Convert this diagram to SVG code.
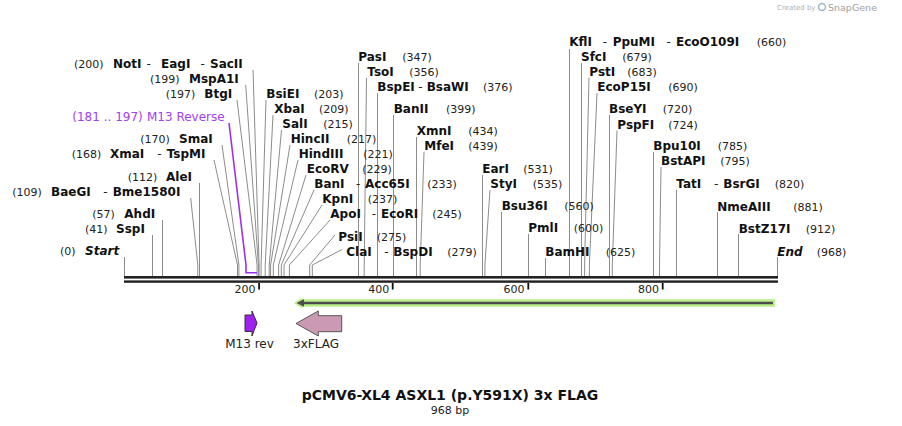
<svg xmlns="http://www.w3.org/2000/svg" width="902" height="426" viewBox="0 0 902 426">
<style>
text{font-family:"DejaVu Sans",Verdana,sans-serif}
.n{font-size:12px;font-weight:bold;fill:#111}
.i{font-style:italic}
.d{font-size:12px;font-weight:normal;fill:#222}
.p{font-size:11px;fill:#222}
.pu{font-size:12px;fill:#a040f0}
.t{font-size:11px;fill:#222;text-anchor:end}
.f{font-size:12px;fill:#222;text-anchor:middle}
.l{stroke:#8c8c8c;stroke-width:1;fill:none}
.bar{fill:#222}
.tick{fill:#111}
</style>
<rect width="902" height="426" fill="#fff"/>
<g id="watermark">
<text x="777" y="10" style="font-size:7px;fill:#b0b0b0">Created by</text>
<circle cx="822" cy="7" r="3.5" fill="none" stroke="#9fb8c8" stroke-width="1.5"/>
<text x="828" y="11" style="font-size:9.5px;fill:#a0a0a0">SnapGene</text>
</g>
<g id="connectors">
<path class="l" d="M259.1 276V265L253 70"/>
<path class="l" d="M258.4 276V265L245.7 85"/>
<path class="l" d="M257.1 276V265L237 100"/>
<path class="l" d="M238.9 276V265L222 145"/>
<path class="l" d="M237.5 276V265L214 160"/>
<path class="l" d="M199.5 276V183"/>
<path class="l" d="M197.8 276V265L190.7 198"/>
<path class="l" d="M162.5 276V220"/>
<path class="l" d="M152.5 276V235"/>
<path class="l" d="M124.5 276V257"/>
<path class="l" d="M261.1 276V265L266 100"/>
<path class="l" d="M265.2 276V265L273 115"/>
<path class="l" d="M269.2 276V265L281.5 130"/>
<path class="l" d="M270.6 276V265L290 145"/>
<path class="l" d="M273.3 276V265L298 160"/>
<path class="l" d="M278.6 276V265L306 175"/>
<path class="l" d="M281.3 276V265L314 190"/>
<path class="l" d="M284 276V265L322 205"/>
<path class="l" d="M289.4 276V265L330 220"/>
<path class="l" d="M309.7 276V265L335 235"/>
<path class="l" d="M312.3 276V265L342 249.5"/>
<path class="l" d="M358.5 276V63"/>
<path class="l" d="M364.2 276V265L366.5 78"/>
<path class="l" d="M377.5 276V93"/>
<path class="l" d="M393.5 276V115"/>
<path class="l" d="M416.5 276V137"/>
<path class="l" d="M420.2 276V265L424 152"/>
<path class="l" d="M482.5 276V175"/>
<path class="l" d="M484.9 276V265L490 190"/>
<path class="l" d="M501.5 276V212"/>
<path class="l" d="M528.5 276V234"/>
<path class="l" d="M545.5 276V258"/>
<path class="l" d="M569.5 276V49"/>
<path class="l" d="M581.5 276V63"/>
<path class="l" d="M584.6 276V265L589 77.5"/>
<path class="l" d="M589.4 276V265L597 93"/>
<path class="l" d="M609.5 276V115"/>
<path class="l" d="M612.3 276V265L617 130.5"/>
<path class="l" d="M653.5 276V152"/>
<path class="l" d="M659.5 276V265L661 167"/>
<path class="l" d="M676.5 276V190"/>
<path class="l" d="M717.5 276V212"/>
<path class="l" d="M738.5 276V234"/>
<path class="l" d="M777.5 276V257"/>
<path d="M229 123L246 265V272.7H257" fill="none" stroke="#9b30f0" stroke-width="1.6"/>
</g>
<g id="sequence">
<rect class="bar" x="124" y="276" width="654" height="2.6"/>
<rect class="bar" x="124" y="280.4" width="654" height="2.4"/>
<rect class="tick" x="258.2" y="283" width="1.8" height="6.5"/>
<rect class="tick" x="391.8" y="283" width="1.8" height="6.5"/>
<rect class="tick" x="527.4" y="283" width="1.8" height="6.5"/>
<rect class="tick" x="661.8" y="283" width="1.8" height="6.5"/>
<text class="t" x="255.5" y="292.5">200</text>
<text class="t" x="389.3" y="292.5">400</text>
<text class="t" x="524.5" y="292.5">600</text>
<text class="t" x="659" y="292.5">800</text>
</g>
<g id="orf">
<polygon points="294,303 302.5,297.5 302.5,299.3 775,299.3 775,306.7 302.5,306.7 302.5,308.5" fill="#b9f08c"/>
<path d="M773 303H300" stroke="#4d4d4d" stroke-width="2.6"/>
<polygon points="296.5,303 304,299.3 304,306.7" fill="#4d4d4d"/>
</g>
<g id="m13rev">
<polygon points="245,315 252,315 252,311 257,323 252,336 252,331.5 245,331.5" fill="#a020f0" stroke="#333" stroke-width="1"/>
<text class="f" x="249.5" y="348">M13 rev</text>
</g>
<g id="flag">
<polygon points="296,323.5 318.3,311 318.3,315.7 341.7,315.7 341.7,331.7 318.3,331.7 318.3,336" fill="#cc99b4" stroke="#555" stroke-width="1"/>
<text class="f" x="316" y="348">3xFLAG</text>
</g>
<g id="title">
<text x="450" y="399.5" text-anchor="middle" style="font-size:14px;font-weight:bold;fill:#111">pCMV6-XL4 ASXL1 (p.Y591X) 3x FLAG</text>
<text x="450" y="413.5" text-anchor="middle" class="p">968 bp</text>
</g>
<g id="site-200"><text class="p" x="74" y="68">(200)</text><text class="n" y="68"><tspan x="113">NotI</tspan><tspan class="d" x="146.5">-</tspan><tspan x="161">EagI</tspan><tspan class="d" x="200.5">-</tspan><tspan x="210">SacII</tspan></text></g>
<g id="site-199"><text class="p" x="150" y="83">(199)</text><text class="n" x="189" y="83">MspA1I</text></g>
<g id="site-197"><text class="p" x="165.7" y="98">(197)</text><text class="n" x="204.3" y="98">BtgI</text></g>
<g id="m13-reverse"><text class="pu" x="72.3" y="120.5">(181 .. 197)</text><text class="pu" x="147" y="120.5">M13 Reverse</text></g>
<g id="site-170"><text class="p" x="140.3" y="142.5">(170)</text><text class="n" x="179" y="142.5">SmaI</text></g>
<g id="site-168"><text class="p" x="71.7" y="157.7">(168)</text><text class="n" y="157.7"><tspan x="110">XmaI</tspan><tspan class="d" x="157.3">-</tspan><tspan x="166.7">TspMI</tspan></text></g>
<g id="site-112"><text class="p" x="127.7" y="180.5">(112)</text><text class="n" x="166" y="180.5">AleI</text></g>
<g id="site-109"><text class="p" x="12.3" y="195.5">(109)</text><text class="n" y="195.5"><tspan x="51">BaeGI</tspan><tspan class="d" x="103.3">-</tspan><tspan x="112.7">Bme1580I</tspan></text></g>
<g id="site-57"><text class="p" x="92.3" y="217.5">(57)</text><text class="n" x="124.3" y="217.5">AhdI</text></g>
<g id="site-41"><text class="p" x="85" y="232.5">(41)</text><text class="n" x="116" y="232.5">SspI</text></g>
<g id="start"><text class="p" x="60" y="255">(0)</text><text class="n i" x="85" y="255">Start</text></g>
<g id="site-203"><text class="n" x="266.3" y="98">BsiEI</text><text class="p" x="314" y="98">(203)</text></g>
<g id="site-209"><text class="n" x="274.3" y="113">XbaI</text><text class="p" x="319" y="113">(209)</text></g>
<g id="site-215"><text class="n" x="282.3" y="128">SalI</text><text class="p" x="323.3" y="128">(215)</text></g>
<g id="site-217"><text class="n" x="290.7" y="143">HincII</text><text class="p" x="346.7" y="143">(217)</text></g>
<g id="site-221"><text class="n" x="298.7" y="158">HindIII</text><text class="p" x="363.3" y="158">(221)</text></g>
<g id="site-229"><text class="n" x="306.7" y="173">EcoRV</text><text class="p" x="362.3" y="173">(229)</text></g>
<g id="site-233"><text class="n" y="188"><tspan x="314.3">BanI</tspan><tspan class="d" x="356">-</tspan><tspan x="365">Acc65I</tspan></text><text class="p" x="427.3" y="188">(233)</text></g>
<g id="site-237"><text class="n" x="322.3" y="203">KpnI</text><text class="p" x="367.7" y="203">(237)</text></g>
<g id="site-245"><text class="n" y="218"><tspan x="330.3">ApoI</tspan><tspan class="d" x="371.7">-</tspan><tspan x="381">EcoRI</tspan></text><text class="p" x="432.3" y="218">(245)</text></g>
<g id="site-275"><text class="n" x="338.3" y="241">PsiI</text><text class="p" x="376.7" y="241">(275)</text></g>
<g id="site-279"><text class="n" y="255.5"><tspan x="346.3">ClaI</tspan><tspan class="d" x="384.3">-</tspan><tspan x="393.3">BspDI</tspan></text><text class="p" x="447.3" y="255.5">(279)</text></g>
<g id="site-347"><text class="n" x="358.3" y="60.5">PasI</text><text class="p" x="402.3" y="60.5">(347)</text></g>
<g id="site-356"><text class="n" x="367.3" y="75.5">TsoI</text><text class="p" x="409.3" y="75.5">(356)</text></g>
<g id="site-376"><text class="n" y="91"><tspan x="377.3">BspEI</tspan><tspan class="d" x="418.3">-</tspan><tspan x="426.7">BsaWI</tspan></text><text class="p" x="483" y="91">(376)</text></g>
<g id="site-399"><text class="n" x="393.7" y="113">BanII</text><text class="p" x="446" y="113">(399)</text></g>
<g id="site-434"><text class="n" x="416.7" y="135">XmnI</text><text class="p" x="468.3" y="135">(434)</text></g>
<g id="site-439"><text class="n" x="424.3" y="150">MfeI</text><text class="p" x="468.3" y="150">(439)</text></g>
<g id="site-531"><text class="n" x="482.3" y="173">EarI</text><text class="p" x="523.3" y="173">(531)</text></g>
<g id="site-535"><text class="n" x="490.3" y="188">StyI</text><text class="p" x="532.7" y="188">(535)</text></g>
<g id="site-560"><text class="n" x="501.7" y="210">Bsu36I</text><text class="p" x="564.3" y="210">(560)</text></g>
<g id="site-600"><text class="n" x="528.3" y="232">PmlI</text><text class="p" x="573.7" y="232">(600)</text></g>
<g id="site-625"><text class="n" x="545.3" y="255.5">BamHI</text><text class="p" x="605.7" y="255.5">(625)</text></g>
<g id="site-660"><text class="n" y="46"><tspan x="569.3">KflI</tspan><tspan class="d" x="602.7">-</tspan><tspan x="612.7">PpuMI</tspan><tspan class="d" x="666.5">-</tspan><tspan x="676">EcoO109I</tspan></text><text class="p" x="756.7" y="46">(660)</text></g>
<g id="site-679"><text class="n" x="581" y="61">SfcI</text><text class="p" x="622.3" y="61">(679)</text></g>
<g id="site-683"><text class="n" x="589.3" y="75.5">PstI</text><text class="p" x="627.3" y="75.5">(683)</text></g>
<g id="site-690"><text class="n" x="597.3" y="91">EcoP15I</text><text class="p" x="668.3" y="91">(690)</text></g>
<g id="site-720"><text class="n" x="609" y="113">BseYI</text><text class="p" x="662.7" y="113">(720)</text></g>
<g id="site-724"><text class="n" x="617.3" y="128.5">PspFI</text><text class="p" x="668.3" y="128.5">(724)</text></g>
<g id="site-785"><text class="n" x="653.3" y="150">Bpu10I</text><text class="p" x="717.7" y="150">(785)</text></g>
<g id="site-795"><text class="n" x="661" y="165">BstAPI</text><text class="p" x="720.3" y="165">(795)</text></g>
<g id="site-820"><text class="n" y="187.5"><tspan x="676.3">TatI</tspan><tspan class="d" x="714">-</tspan><tspan x="723.3">BsrGI</tspan></text><text class="p" x="774.7" y="187.5">(820)</text></g>
<g id="site-881"><text class="n" x="717.3" y="210.5">NmeAIII</text><text class="p" x="793.3" y="210.5">(881)</text></g>
<g id="site-912"><text class="n" x="738.7" y="232.5">BstZ17I</text><text class="p" x="805.7" y="232.5">(912)</text></g>
<g id="end"><text class="n i" x="777.3" y="255.5">End</text><text class="p" x="816.7" y="255.5">(968)</text></g>
</svg>
